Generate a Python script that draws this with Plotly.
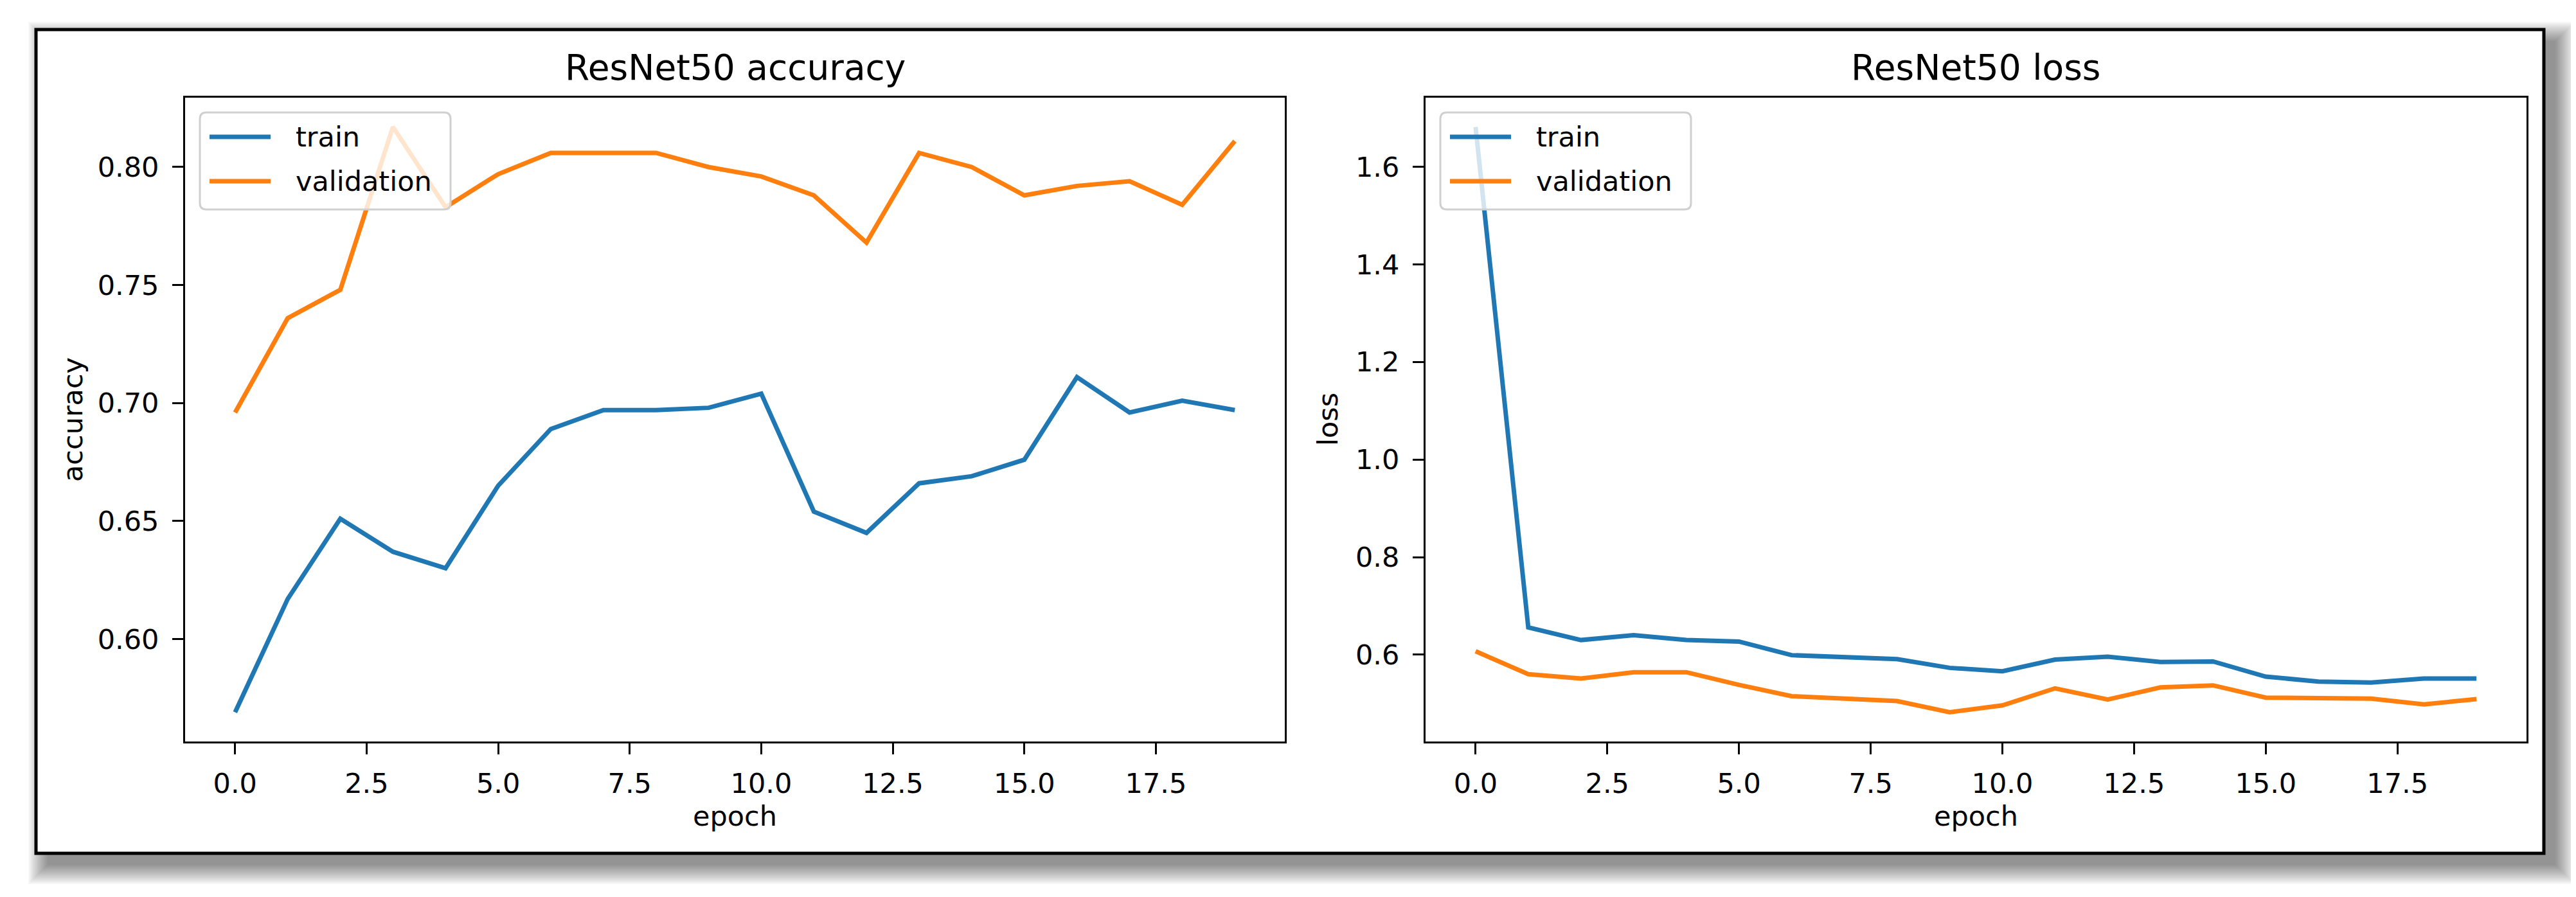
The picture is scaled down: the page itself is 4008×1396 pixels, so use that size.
import plotly.graph_objects as go

W, H = 4008, 1396

# ---------------- data ----------------
epochs = list(range(20))
acc_train = [0.569, 0.617, 0.651, 0.637, 0.630, 0.665, 0.689, 0.697, 0.697, 0.698,
             0.704, 0.654, 0.645, 0.666, 0.669, 0.676, 0.711, 0.696, 0.701, 0.697]
acc_val = [0.696, 0.736, 0.748, 0.817, 0.783, 0.797, 0.806, 0.806, 0.806, 0.800,
           0.796, 0.788, 0.768, 0.806, 0.800, 0.788, 0.792, 0.794, 0.784, 0.811]
loss_train = [1.682, 0.656, 0.630, 0.640, 0.630, 0.627, 0.599, 0.594, 0.591, 0.573,
              0.566, 0.590, 0.596, 0.585, 0.586, 0.555, 0.545, 0.543, 0.551, 0.551]
loss_val = [0.607, 0.560, 0.551, 0.564, 0.564, 0.538, 0.515, 0.509, 0.505, 0.482,
            0.496, 0.531, 0.508, 0.533, 0.537, 0.512, 0.511, 0.510, 0.498, 0.509]

x_ticks = [0, 2.5, 5, 7.5, 10, 12.5, 15, 17.5]
x_tick_labels = ["0.0", "2.5", "5.0", "7.5", "10.0", "12.5", "15.0", "17.5"]
acc_ticks = [0.60, 0.65, 0.70, 0.75, 0.80]
acc_tick_labels = ["0.60", "0.65", "0.70", "0.75", "0.80"]
loss_ticks = [0.6, 0.8, 1.0, 1.2, 1.4, 1.6]
loss_tick_labels = ["0.6", "0.8", "1.0", "1.2", "1.4", "1.6"]

series_names = ["train", "validation"]
colors = ["#1f77b4", "#ff7f0e"]
titles = ["ResNet50 accuracy", "ResNet50 loss"]
y_labels = ["accuracy", "loss"]
x_label = "epoch"

FONT = "DejaVu Sans"
TICK_SIZE = 43
TITLE_SIZE = 55
LINE_W = 7


def px(x):
    return x / W


def py(y):
    return 1 - y / H


def auto_range(*arrs, margin=0.05):
    lo = min(min(a) for a in arrs)
    hi = max(max(a) for a in arrs)
    d = hi - lo
    return [lo - margin * d, hi + margin * d]


fig = go.Figure()

panels = [
    dict(train=acc_train, val=acc_val, ticks=acc_ticks, labels=acc_tick_labels,
         xdom=(280, 1991), xa="x", ya="y"),
    dict(train=loss_train, val=loss_val, ticks=loss_ticks, labels=loss_tick_labels,
         xdom=(2210, 3923), xa="x2", ya="y2"),
]
ytop, ybot = 144, 1146

for i, p in enumerate(panels):
    for name, vals, col in zip(series_names, [p["train"], p["val"]], colors):
        fig.add_trace(go.Scatter(x=epochs, y=vals, mode="lines", name=name,
                                 line=dict(color=col, width=LINE_W),
                                 xaxis=p["xa"], yaxis=p["ya"], showlegend=False,
                                 hoverinfo="skip"))
    x_range = auto_range(epochs)
    axis_common = dict(showgrid=False, zeroline=False, showline=True, mirror=True,
                       linecolor="black", linewidth=3, ticks="outside", ticklen=17,
                       tickwidth=3, tickcolor="black",
                       tickfont=dict(family=FONT, size=TICK_SIZE, color="black"))
    suffix = "" if i == 0 else "2"
    fig.update_layout(**{
        "xaxis" + suffix: dict(domain=[px(p["xdom"][0]), px(p["xdom"][1])],
                               range=x_range, tickvals=x_ticks, ticktext=x_tick_labels,
                               anchor="y" + suffix, ticklabelstandoff=8, **axis_common),
        "yaxis" + suffix: dict(domain=[py(ybot), py(ytop)],
                               range=auto_range(p["train"], p["val"]),
                               tickvals=p["ticks"], ticktext=p["labels"],
                               anchor="x" + suffix, ticklabelstandoff=12, **axis_common),
    })

shapes = []
# shadow of outer frame
fx0, fy0, fx1, fy1 = 48, 38, 3950, 1320
off = 18
for e in range(0, 32, 2):
    shapes.append(dict(type="rect", xref="paper", yref="paper", layer="below",
                       x0=px(fx0 + off - e), x1=px(fx1 + off + e),
                       y0=py(fy1 + off + e), y1=py(fy0 + off - e),
                       line=dict(width=0), fillcolor="rgba(0,0,0,0.03)"))
# outer frame
shapes.append(dict(type="rect", xref="paper", yref="paper", layer="below",
                   x0=px(fx0), x1=px(fx1), y0=py(fy1), y1=py(fy0),
                   line=dict(color="black", width=5), fillcolor="white"))

annotations = []


def rounded_rect(x0, y0, x1, y1, r):
    rx, ry = r / W, r / H
    X0, X1 = px(x0), px(x1)
    Y0, Y1 = py(y0), py(y1)  # Y0 top, Y1 bottom (paper)
    return (f"M{X0+rx},{Y0} L{X1-rx},{Y0} Q{X1},{Y0} {X1},{Y0-ry} "
            f"L{X1},{Y1+ry} Q{X1},{Y1} {X1-rx},{Y1} L{X0+rx},{Y1} "
            f"Q{X0},{Y1} {X0},{Y1+ry} L{X0},{Y0-ry} Q{X0},{Y0} {X0+rx},{Y0} Z")


legend_widths = [390, 390]
for i, p in enumerate(panels):
    x0 = p["xdom"][0]
    xc = (p["xdom"][0] + p["xdom"][1]) / 2
    # title
    annotations.append(dict(text=titles[i], xref="paper", yref="paper",
                            x=px(xc), y=py(97), xanchor="center", yanchor="middle",
                            showarrow=False,
                            font=dict(family=FONT, size=TITLE_SIZE, color="black")))
    # x label
    annotations.append(dict(text=x_label, xref="paper", yref="paper",
                            x=px(xc), y=py(1262), xanchor="center", yanchor="middle",
                            showarrow=False,
                            font=dict(family=FONT, size=TICK_SIZE, color="black")))
    # y label
    ylx = 105 if i == 0 else 2058
    annotations.append(dict(text=y_labels[i], xref="paper", yref="paper",
                            x=px(ylx), y=py((ytop + ybot) / 2), xanchor="center",
                            yanchor="middle", textangle=-90, showarrow=False,
                            font=dict(family=FONT, size=TICK_SIZE, color="black")))
    # legend box
    lx0 = x0 + 23
    shapes.append(dict(type="path", xref="paper", yref="paper", layer="above",
                       path=rounded_rect(lx0, 167, lx0 + legend_widths[i], 318, 10),
                       line=dict(color="#d0d0d0", width=3),
                       fillcolor="rgba(255,255,255,0.8)"))
    for name, col, yy in zip(series_names, colors, [205, 274]):
        shapes.append(dict(type="line", xref="paper", yref="paper", layer="above",
                           x0=px(lx0 + 15), x1=px(lx0 + 110), y0=py(yy), y1=py(yy),
                           line=dict(color=col, width=LINE_W)))
        annotations.append(dict(text=name, xref="paper", yref="paper",
                                x=px(lx0 + 147), y=py(yy), xanchor="left",
                                yanchor="middle", showarrow=False,
                                font=dict(family=FONT, size=TICK_SIZE, color="black")))

fig.update_layout(width=W, height=H, margin=dict(l=0, r=0, t=0, b=0),
                  paper_bgcolor="white", plot_bgcolor="rgba(0,0,0,0)",
                  shapes=shapes, annotations=annotations, showlegend=False)

fig.write_html("out.html")
